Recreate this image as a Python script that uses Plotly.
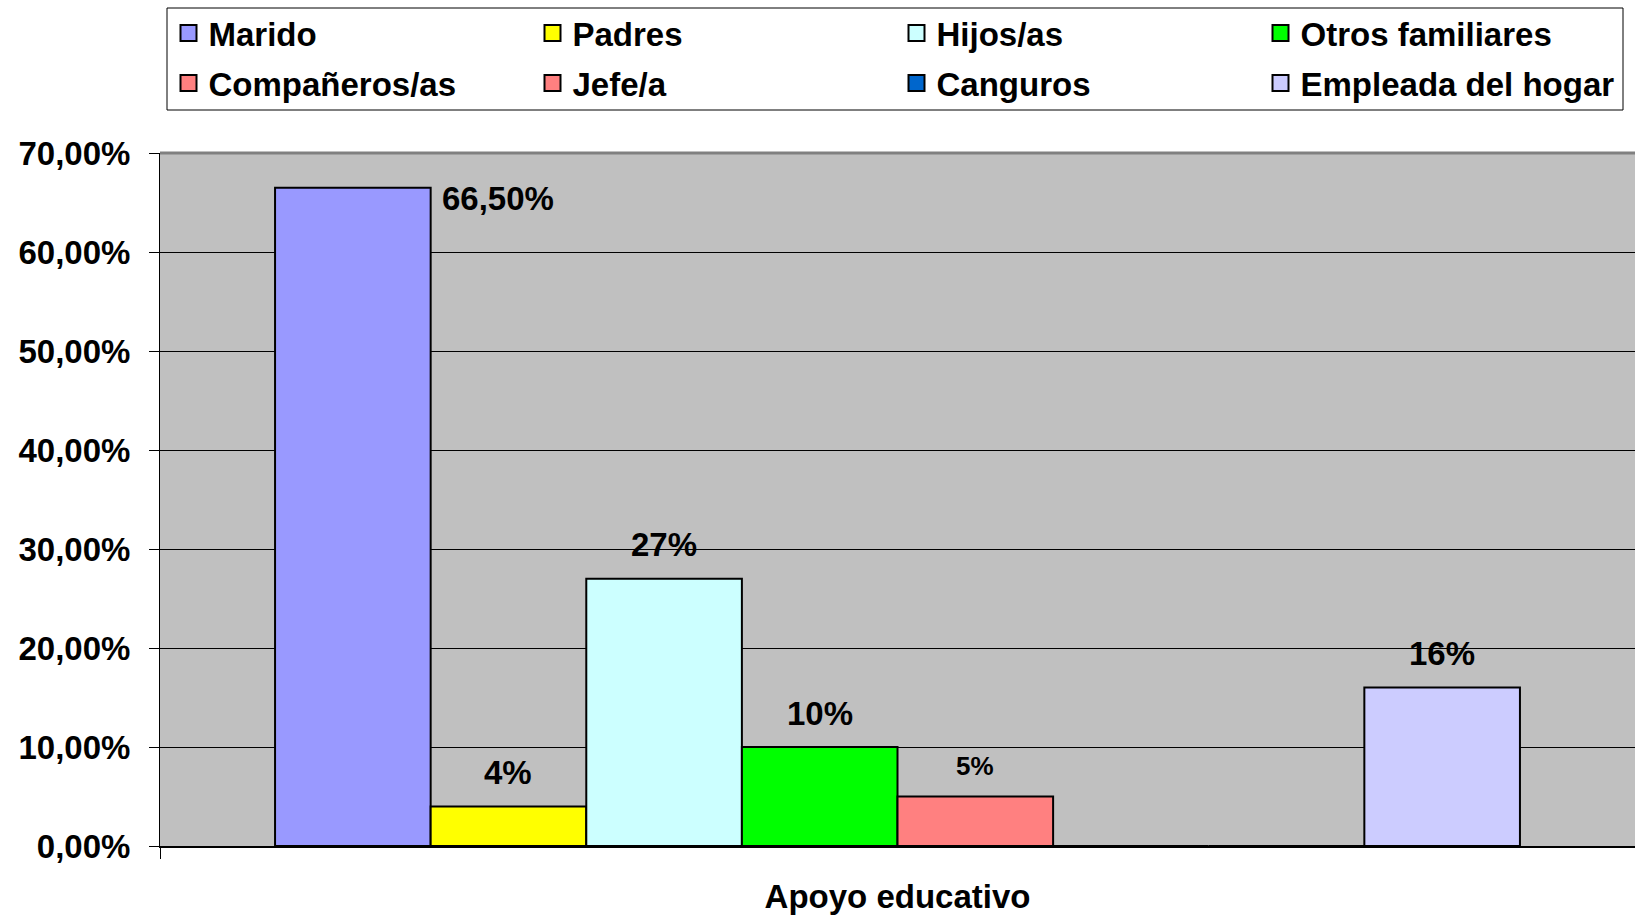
import plotly.graph_objects as go

category = ["Apoyo educativo"]
series_names = ["Marido", "Padres", "Hijos/as", "Otros familiares",
                "Compañeros/as", "Jefe/a", "Canguros", "Empleada del hogar"]
series_values = [66.5, 4, 27, 10, 5, 0, 0, 16]
value_labels = ["66,50%", "4%", "27%", "10%", "5%", "", "", "16%"]
series_colors = ["#9999FF", "#FFFF00", "#CCFFFF", "#00FF00",
                 "#FF8080", "#FF8080", "#0066CC", "#CCCCFF"]
y_ticks = [0, 10, 20, 30, 40, 50, 60, 70]
y_tick_labels = ["0,00%", "10,00%", "20,00%", "30,00%", "40,00%", "50,00%", "60,00%", "70,00%"]

FONT = "Arial, 'Liberation Sans', sans-serif"
FS = 33
BARGAP = 0.156
n = len(series_names)

# plot area geometry in px (for paper-coordinate placement of legend/box)
L, T, B, W, H = 160, 153, 71, 1635, 917
PW, PH = W - L, H - T - B

fig = go.Figure()
for i, (name, val, col) in enumerate(zip(series_names, series_values, series_colors)):
    fig.add_trace(go.Bar(
        x=category, y=[val], name=name,
        marker=dict(color=col, line=dict(color="black", width=2)),
        showlegend=False, hoverinfo="skip",
    ))
# legend swatches
for i, (name, col) in enumerate(zip(series_names, series_colors)):
    fig.add_trace(go.Scatter(
        x=[None], y=[None], mode="markers", name=name,
        marker=dict(symbol="square", size=16, color=col, line=dict(color="black", width=2)),
        legend="legend" if i < 4 else "legend2", hoverinfo="skip",
    ))

# data labels
slot = (1 - BARGAP) / n
annotations = []
for i, (val, lab) in enumerate(zip(series_values, value_labels)):
    if not lab:
        continue
    xc = -0.5 * (1 - BARGAP) + (i + 0.5) * slot
    if i == 0:
        annotations.append(dict(x=xc + slot / 2, y=val, xref="x", yref="y", text=lab,
                                showarrow=False, xanchor="left", yanchor="middle",
                                xshift=9, yshift=-11,
                                font=dict(family=FONT, size=FS, color="black", weight="bold")))
    else:
        small = (i == 4)
        annotations.append(dict(x=xc, y=val, xref="x", yref="y", text=lab,
                                showarrow=False, xanchor="center", yanchor="middle",
                                yshift=31 if small else 34,
                                font=dict(family=FONT, size=26 if small else FS,
                                          color="black", weight="bold")))

legend_common = dict(
    orientation="h", xanchor="left", yanchor="middle",
    bgcolor="rgba(0,0,0,0)", borderwidth=0,
    entrywidth=319, entrywidthmode="pixels",
    font=dict(family=FONT, size=FS, color="black", weight="bold"),
    itemclick=False, itemdoubleclick=False, traceorder="normal",
    itemsizing="trace",
)

fig.update_layout(
    width=W, height=H,
    margin=dict(l=L, r=0, t=T, b=B, autoexpand=False),
    paper_bgcolor="white", plot_bgcolor="#C0C0C0",
    barmode="group", bargap=BARGAP, bargroupgap=0,
    separators=",.",
    showlegend=True,
    legend=dict(legend_common, x=8.5 / PW, y=(H - B - 33) / PH),
    legend2=dict(legend_common, x=8.5 / PW, y=(H - B - 83) / PH),
    annotations=annotations,
    shapes=[
        dict(type="rect", xref="paper", yref="paper",
             x0=(167 - L) / PW, x1=(1623 - L) / PW,
             y0=(H - B - 110) / PH, y1=(H - B - 8) / PH,
             line=dict(color="black", width=1), fillcolor="rgba(0,0,0,0)", layer="above"),
        dict(type="line", xref="paper", yref="paper", x0=0, x1=1, y0=1, y1=1,
             line=dict(color="#808080", width=3)),
    ],
    xaxis=dict(
        showticklabels=False, ticks="outside", tickson="boundaries", ticklen=11,
        tickcolor="black", showline=True, linecolor="black", linewidth=2,
        showgrid=False, zeroline=False,
        title=dict(text="Apoyo educativo", standoff=38,
                   font=dict(family=FONT, size=FS, color="black", weight="bold")),
        automargin=False, fixedrange=True,
    ),
    yaxis=dict(
        range=[0, 70], tickvals=y_ticks, ticktext=y_tick_labels,
        ticks="outside", ticklen=10, tickcolor="black", ticklabelstandoff=12,
        showline=True, linecolor="black", linewidth=1,
        showgrid=True, gridcolor="black", gridwidth=1, zeroline=False,
        tickfont=dict(family=FONT, size=FS, color="black", weight="bold"),
        automargin=False, fixedrange=True,
    ),
)

fig.write_html("out.html", config={"displayModeBar": False},
               post_script="document.body.style.margin='0';document.body.style.overflow='hidden';")
